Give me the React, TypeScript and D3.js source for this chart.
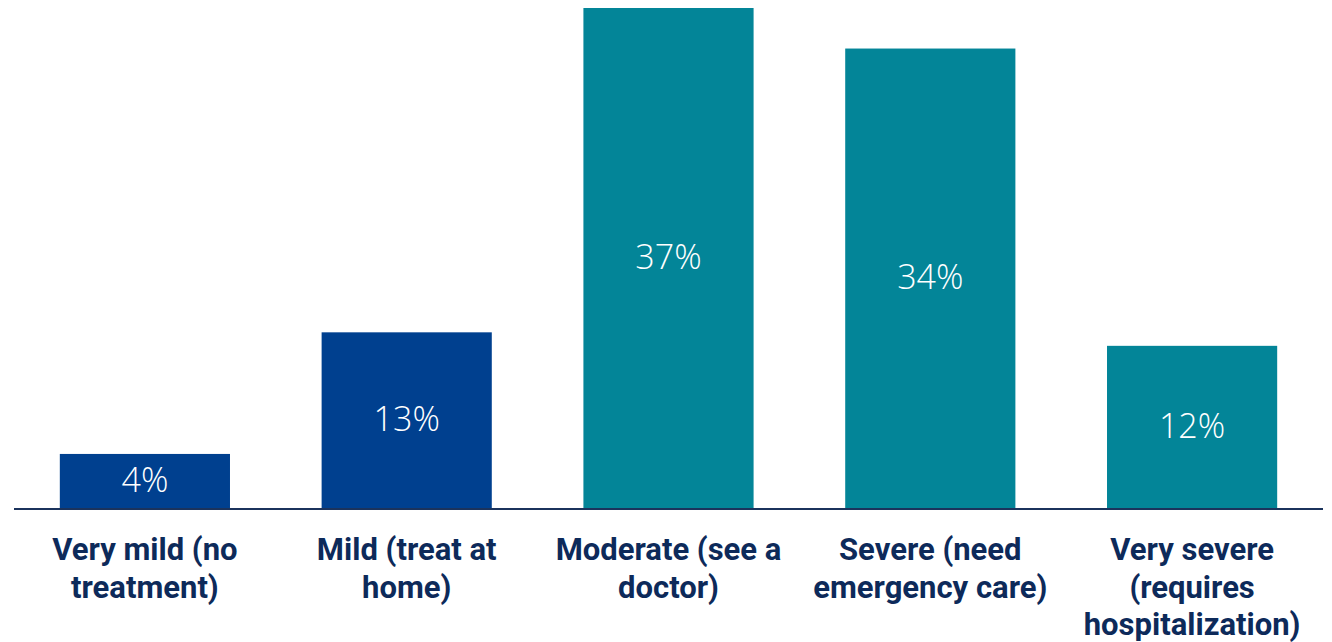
import * as d3 from "d3";
import { useEffect, useRef } from "react";

const categories = [
  "Very mild (no treatment)",
  "Mild (treat at home)",
  "Moderate (see a doctor)",
  "Severe (need emergency care)",
  "Very severe (requires hospitalization)",
];
const values = [4, 13, 37, 34, 12];
const groups = ["home", "home", "care", "care", "care"];

function wrap(sel: d3.Selection<SVGTextElement, string, SVGGElement, unknown>, width: number) {
  sel.each(function (d) {
    const text = d3.select(this);
    const words = d.split(" ");
    const x = text.attr("x");
    text.text(null);
    let line: string[] = [];
    let tspan = text.append("tspan").attr("x", x).attr("dy", 0);
    for (const w of words) {
      line.push(w);
      tspan.text(line.join(" "));
      if ((tspan.node() as SVGTSpanElement).getComputedTextLength() > width && line.length > 1) {
        line.pop();
        tspan.text(line.join(" "));
        line = [w];
        tspan = text.append("tspan").attr("x", x).attr("dy", 37.5).text(w);
      }
    }
  });
}

export default function App() {
  const ref = useRef<SVGSVGElement>(null);
  const width = 1332;
  const height = 642;
  const baseline = 508;

  useEffect(() => {
    document.body.style.margin = "0";
    const svg = d3.select(ref.current);
    svg.selectAll("*").remove();

    const x = d3
      .scaleBand()
      .domain(categories)
      .range([14, 1323])
      .paddingInner(0.35)
      .paddingOuter(0.175);

    const y = d3.scaleLinear().domain([0, 37]).range([baseline, 8]);

    const color = d3.scaleOrdinal<string>().domain(["home", "care"]).range(["#00408f", "#038598"]);

    const data = categories.map((c, i) => ({ label: c, value: values[i], group: groups[i] }));

    // bars
    svg
      .append("g")
      .selectAll("rect")
      .data(data)
      .enter()
      .append("rect")
      .attr("x", (d) => x(d.label) as number)
      .attr("y", (d) => y(d.value))
      .attr("width", x.bandwidth())
      .attr("height", (d) => baseline - y(d.value))
      .attr("fill", (d) => color(d.group));

    // value labels in the middle of each bar
    svg
      .append("g")
      .selectAll("text")
      .data(data)
      .enter()
      .append("text")
      .attr("x", (d) => (x(d.label) as number) + x.bandwidth() / 2)
      .attr("y", (d) => (y(d.value) + baseline) / 2 - 2)
      .attr("text-anchor", "middle")
      .attr("dominant-baseline", "central")
      .attr("fill", "white")
      .style("font-family", "'Open Sans', sans-serif")
      .style("font-weight", 300)
      .style("font-size", "34px")
      .text((d) => d.value + "%");

    // axis line
    svg
      .append("line")
      .attr("x1", 14)
      .attr("x2", 1323)
      .attr("y1", baseline + 1)
      .attr("y2", baseline + 1)
      .attr("stroke", "#1b335c")
      .attr("stroke-width", 2);

    // category labels
    const labels = svg
      .append("g")
      .selectAll<SVGTextElement, string>("text")
      .data(categories)
      .enter()
      .append("text")
      .attr("x", (d) => (x(d) as number) + x.bandwidth() / 2)
      .attr("y", 560)
      .attr("text-anchor", "middle")
      .attr("fill", "#0d2a5a")
      .style("font-family", "Roboto, sans-serif")
      .style("font-weight", "bold")
      .style("font-size", "31px")
      .text((d) => d);
    wrap(labels as any, 250);
  }, []);

  return <svg ref={ref} width={width} height={height} style={{ display: "block" }}></svg>;
}
